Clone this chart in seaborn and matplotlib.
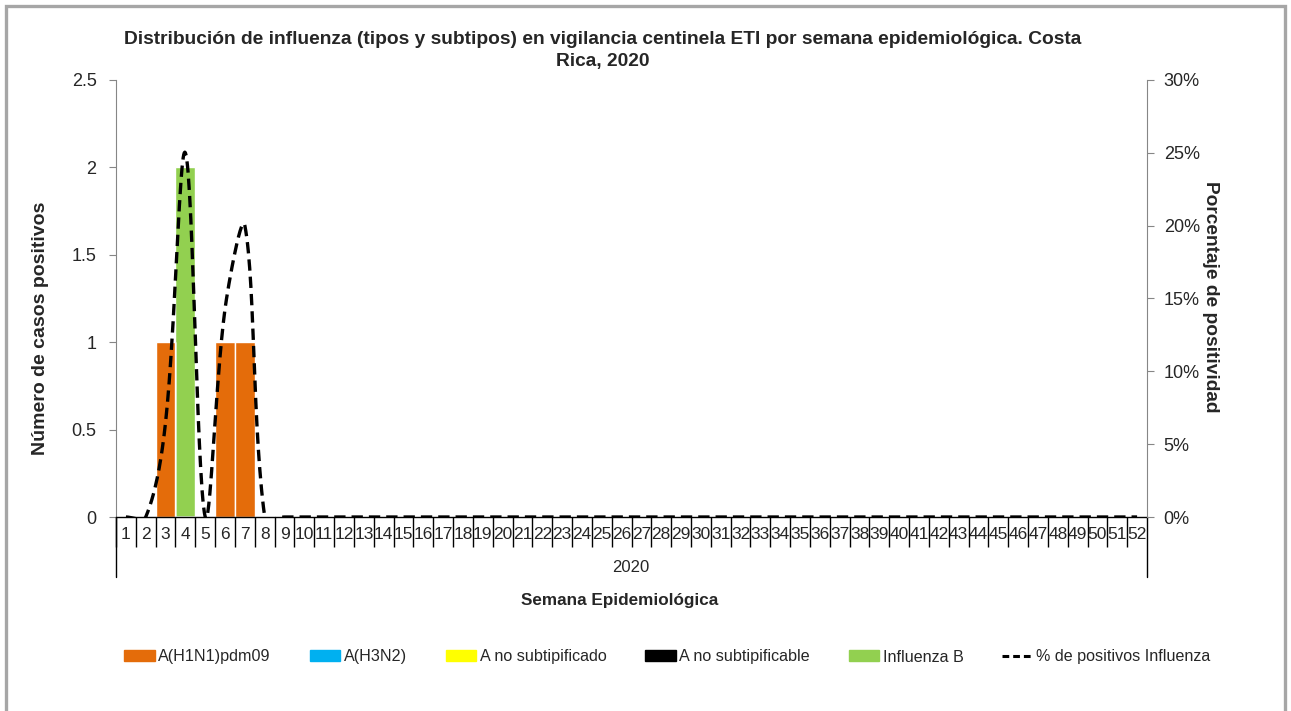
import numpy as np
import pandas as pd
import matplotlib
matplotlib.use("Agg")
import matplotlib.pyplot as plt
import seaborn as sns
from matplotlib.patches import Patch, Rectangle
from matplotlib.lines import Line2D
from matplotlib.ticker import FuncFormatter, MultipleLocator

# Datos por semana epidemiológica (1-52), Costa Rica 2020
semanas = [str(s) for s in range(1, 53)]
h1n1 = [0, 0, 1, 0, 0, 1, 1, 0, 0, 0, 0, 0, 0,
        0, 0, 0, 0, 0, 0, 0, 0, 0, 0, 0, 0, 0,
        0, 0, 0, 0, 0, 0, 0, 0, 0, 0, 0, 0, 0,
        0, 0, 0, 0, 0, 0, 0, 0, 0, 0, 0, 0, 0]
h3n2 = [0, 0, 0, 0, 0, 0, 0, 0, 0, 0, 0, 0, 0,
        0, 0, 0, 0, 0, 0, 0, 0, 0, 0, 0, 0, 0,
        0, 0, 0, 0, 0, 0, 0, 0, 0, 0, 0, 0, 0,
        0, 0, 0, 0, 0, 0, 0, 0, 0, 0, 0, 0, 0]
a_no_subtipificado = [0, 0, 0, 0, 0, 0, 0, 0, 0, 0, 0, 0, 0,
                      0, 0, 0, 0, 0, 0, 0, 0, 0, 0, 0, 0, 0,
                      0, 0, 0, 0, 0, 0, 0, 0, 0, 0, 0, 0, 0,
                      0, 0, 0, 0, 0, 0, 0, 0, 0, 0, 0, 0, 0]
a_no_subtipificable = [0, 0, 0, 0, 0, 0, 0, 0, 0, 0, 0, 0, 0,
                       0, 0, 0, 0, 0, 0, 0, 0, 0, 0, 0, 0, 0,
                       0, 0, 0, 0, 0, 0, 0, 0, 0, 0, 0, 0, 0,
                       0, 0, 0, 0, 0, 0, 0, 0, 0, 0, 0, 0, 0]
influenza_b = [0, 0, 0, 2, 0, 0, 0, 0, 0, 0, 0, 0, 0,
               0, 0, 0, 0, 0, 0, 0, 0, 0, 0, 0, 0, 0,
               0, 0, 0, 0, 0, 0, 0, 0, 0, 0, 0, 0, 0,
               0, 0, 0, 0, 0, 0, 0, 0, 0, 0, 0, 0, 0]
pct_positivos = [0, 0, 0.065, 0.25, 0, 0.143, 0.20, 0, 0, 0, 0, 0, 0,
                 0, 0, 0, 0, 0, 0, 0, 0, 0, 0, 0, 0, 0,
                 0, 0, 0, 0, 0, 0, 0, 0, 0, 0, 0, 0, 0,
                 0, 0, 0, 0, 0, 0, 0, 0, 0, 0, 0, 0, 0]

series = ["A(H1N1)pdm09", "A(H3N2)", "A no subtipificado", "A no subtipificable", "Influenza B"]
colores = ["#e46c0a", "#00b0f0", "#ffff00", "#000000", "#92d050"]

W, H = 1291, 711


def suavizar(y, sx, sy, n=30):
    # curva suavizada tipo Excel: Bezier con tangentes ponderadas por la
    # longitud de los tramos (medida en pixeles)
    y = np.asarray(y, float)
    x = np.arange(len(y), dtype=float)
    P = np.column_stack([x, y])
    m = len(P)
    d = np.hypot(np.diff(x) * sx, np.diff(y) * sy)
    c_out, c_in = P.copy(), P.copy()
    for i in range(m):
        a, b = max(i - 1, 0), min(i + 1, m - 1)
        T = P[b] - P[a]
        da = d[i - 1] if i > 0 else 0.0
        db = d[i] if i < m - 1 else 0.0
        tot = da + db
        if tot == 0:
            continue
        c_in[i] = P[i] - T * (da / tot) / 3
        c_out[i] = P[i] + T * (db / tot) / 3
    xs, ys = [], []
    for i in range(m - 1):
        t = np.linspace(0, 1, n, endpoint=(i == m - 2))[:, None]
        bz = ((1 - t) ** 3 * P[i] + 3 * (1 - t) ** 2 * t * c_out[i]
              + 3 * (1 - t) * t ** 2 * c_in[i + 1] + t ** 3 * P[i + 1])
        xs.extend(bz[:, 0])
        ys.extend(bz[:, 1])
    return np.array(xs), np.array(ys)


def main():
    sns.set_style("white")
    plt.rcParams["font.family"] = ["Liberation Sans", "DejaVu Sans"]

    df = pd.DataFrame({"semana": semanas, series[0]: h1n1, series[1]: h3n2,
                       series[2]: a_no_subtipificado, series[3]: a_no_subtipificable,
                       series[4]: influenza_b})

    fig = plt.figure(figsize=(W / 100, H / 100), dpi=100)
    ax = fig.add_axes([116 / W, 1 - 517 / H, (1147 - 116) / W, (517 - 80) / H])

    # barras apiladas: se dibuja el acumulado de arriba hacia abajo
    for k in range(len(series) - 1, -1, -1):
        df["acum"] = df[series[:k + 1]].sum(axis=1)
        sns.barplot(data=df, x="semana", y="acum", order=semanas, color=colores[k],
                    saturation=1, width=1, edgecolor="white", linewidth=1, ax=ax)

    ax.set_xlim(-0.5, 51.5)
    ax.set_ylim(0, 2.5)
    ax.yaxis.set_major_locator(MultipleLocator(0.5))
    ax.yaxis.set_major_formatter(FuncFormatter(lambda v, p: "%g" % v))
    ax.set_xlabel("")
    ax.set_ylabel("")
    for s in ["top", "right"]:
        ax.spines[s].set_visible(False)
    ax.spines["left"].set_color("#868686")
    ax.spines["bottom"].set_color("black")
    ax.spines["bottom"].set_linewidth(1)
    ax.tick_params(axis="y", direction="out", length=5, color="#868686", labelsize=13, pad=9,
                   left=True)
    ax.tick_params(axis="x", which="major", length=0, labelsize=12.5, pad=7, bottom=True)
    ax.set_xticks(np.arange(-0.5, 51.5, 1), minor=True)
    ax.tick_params(axis="x", which="minor", direction="out", length=21.6, width=1, color="black",
                   bottom=True)
    # lineas exteriores del eje de categorías
    tr = ax.get_xaxis_transform()
    for xb in [-0.5, 51.5]:
        ax.plot([xb, xb], [0, -60 / 437], color="black", lw=1, transform=tr, clip_on=False)

    # porcentaje de positividad (eje secundario)
    ax2 = ax.twinx()
    xs, ys = suavizar(pct_positivos, sx=(1147 - 116) / 52, sy=437 / 0.3)
    sns.lineplot(x=xs, y=ys, sort=False, estimator=None, color="black", linewidth=2.4, ax=ax2)
    ax2.lines[-1].set_dashes((3.4, 1.8))
    ax2.set_ylim(0, 0.3)
    ax2.yaxis.set_major_locator(MultipleLocator(0.05))
    ax2.yaxis.set_major_formatter(FuncFormatter(lambda v, p: "%d%%" % round(v * 100)))
    for s in ["top", "left", "bottom"]:
        ax2.spines[s].set_visible(False)
    ax2.spines["right"].set_color("#868686")
    ax2.tick_params(axis="y", direction="out", length=5, color="#868686", labelsize=13, pad=7,
                    right=True)
    ax2.set_ylabel("")

    # textos
    fig.text(603 / W, 1 - 50.5 / H,
             "Distribución de influenza (tipos y subtipos) en vigilancia centinela ETI por semana epidemiológica. Costa\nRica, 2020",
             ha="center", va="center", fontsize=13.8, fontweight="bold", linespacing=1.4)
    fig.text(41 / W, 1 - 328 / H, "Número de casos positivos", rotation=90, ha="center",
             va="center", fontsize=14, fontweight="bold")
    fig.text(1210 / W, 1 - 297 / H, "Porcentaje de positividad", rotation=-90, ha="center",
             va="center", fontsize=13.8, fontweight="bold")
    fig.text(631 / W, 1 - 567 / H, "2020", ha="center", va="center", fontsize=12)
    fig.text(620 / W, 1 - 600 / H, "Semana Epidemiológica", ha="center", va="center",
             fontsize=12.3, fontweight="bold")

    handles = [Patch(facecolor=c, edgecolor=c) for c in colores]
    handles.append(Line2D([], [], color="black", lw=2.2, dashes=(2.2, 1.3)))
    fig.legend(handles, series + ["% de positivos Influenza"], loc="center",
               bbox_to_anchor=(667.5 / W, 1 - 657 / H), ncol=6, frameon=False, fontsize=11.65,
               handlelength=1.9, handleheight=0.65, handletextpad=0.2, columnspacing=2.4)

    # marco gris del gráfico
    fig.patches.append(Rectangle((6 / W, -0.05), (1285 - 6) / W, 1.05 - 6 / H,
                                 transform=fig.transFigure, fill=False, ec="#a6a6a6", lw=2.4))

    fig.savefig("out.png", dpi=100)
    plt.close(fig)


if __name__ == "__main__":
    main()
